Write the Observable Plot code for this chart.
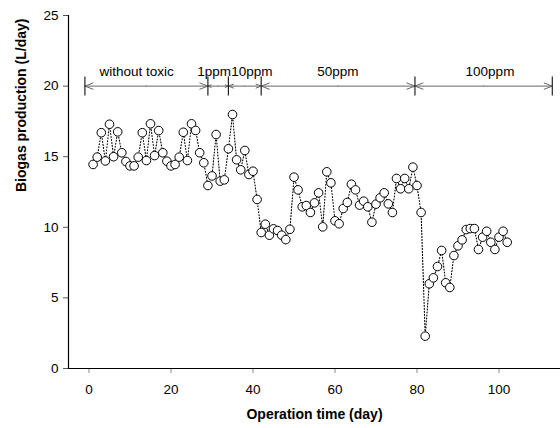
<!DOCTYPE html>
<html><head><meta charset="utf-8">
<script src="https://cdn.jsdelivr.net/npm/d3@7"></script>
<script src="https://cdn.jsdelivr.net/npm/@observablehq/plot@0.6"></script>
<style>
html,body{margin:0;padding:0;background:#fff;}
#chart svg{display:block;}
</style></head><body><div id="chart"></div>
<script>
const days = [1,2,3,4,5,6,7,8,9,10,11,12,13,14,15,16,17,18,19,20,
  21,22,23,24,25,26,27,28,29,30,31,32,33,34,35,36,37,38,39,40,
  41,42,43,44,45,46,47,48,49,50,51,52,53,54,55,56,57,58,59,60,
  61,62,63,64,65,66,67,68,69,70,71,72,73,74,75,76,77,78,79,80,
  81,82,83,84,85,86,87,88,89,90,91,92,93,94,95,96,97,98,99,100,101,102];
const biogas = [14.45,14.97,16.7,14.7,17.3,15.0,16.76,15.28,14.66,14.35,
  14.35,14.97,16.7,14.73,17.33,15.08,16.85,15.28,14.68,14.35,
  14.45,14.97,16.73,14.73,17.33,16.86,15.28,14.57,12.96,13.64,
  16.57,13.27,13.36,15.56,17.99,14.78,14.07,15.44,13.74,13.97,
  11.97,9.63,10.22,9.44,9.89,9.77,9.44,9.13,9.86,13.55,
  12.65,11.45,11.54,11.05,11.73,12.44,10.03,13.93,13.15,10.46,
  10.25,11.33,11.76,13.05,12.65,11.57,11.85,11.45,10.36,11.64,
  12.09,12.44,11.66,11.05,13.46,12.73,13.46,12.73,14.26,12.96,
  11.05,2.29,6.0,6.42,7.22,8.36,6.07,5.74,8.0,8.69,
  9.11,9.84,9.91,9.91,8.43,9.3,9.72,8.94,8.43,9.3,9.72,8.94];

const phaseLabels = ["without toxic","1ppm","10ppm","50ppm","100ppm"];
const phaseStart = [-1, 29, 34, 42, 79.5];
const phaseEnd = [29, 34, 42, 79.5, 113];
const phaseLabelX = [11.6, 30.5, 39.7, 60.7, 97.8];
const phaseLevel = 20;
const phaseLabelLevel = 21.05;

const xTicks = [0,20,40,60,80,100];
const yTicks = [0,5,10,15,20,25];

const data = days.map((d,i) => ({day: d, value: biogas[i]}));
const phases = phaseLabels.map((l,i) => ({label: l, start: phaseStart[i], end: phaseEnd[i], lx: phaseLabelX[i]}));
const halves = phases.flatMap(p => {
  const m = (p.start + p.end) / 2;
  return [{from: m, to: p.start}, {from: m, to: p.end}];
});
const bounds = Array.from(new Set(phases.flatMap(p => [p.start, p.end])));

const font = "'Liberation Sans', Arial, Helvetica, sans-serif";
const chart = Plot.plot({
  width: 560, height: 428,
  marginLeft: 68, marginRight: 0, marginTop: 15, marginBottom: 60,
  x: {domain: [-5, 115]},
  y: {domain: [0, 25]},
  style: {fontFamily: font, fontSize: "13.5px", color: "#000", background: "#fff"},
  marks: [
    Plot.axisX({ticks: xTicks, tickSize: 5, tickPadding: 11, stroke: "#888", fill: "#000", label: null}),
    Plot.axisY({ticks: yTicks, tickSize: 5, tickPadding: 5, stroke: "#555", fill: "#000", label: null}),
    Plot.ruleX([-5], {y1: 0, y2: 25, stroke: "#000", strokeWidth: 1.2}),
    Plot.ruleY([0], {x1: -5, x2: 115, stroke: "#000", strokeWidth: 1.2}),
    Plot.line(data, {x: "day", y: "value", stroke: "#000", strokeWidth: 1.1, strokeDasharray: "1,2"}),
    Plot.dot(data, {x: "day", y: "value", r: 4.3, fill: "#fff", stroke: "#000", strokeWidth: 1}),
    Plot.arrow(halves, {x1: "from", x2: "to", y1: phaseLevel, y2: phaseLevel, stroke: "#666", strokeWidth: 1, headLength: 13, headAngle: 42}),
    Plot.ruleX(bounds, {y1: 19.3, y2: 20.65, stroke: "#222", strokeWidth: 1.2}),
    Plot.text(phases, {x: "lx", y: phaseLabelLevel, text: "label", fill: "#000", fontSize: 13.5}),
    Plot.text(["Operation time (day)"], {frameAnchor: "bottom", dy: 50, fontWeight: "bold", fontSize: 14, fill: "#000"}),
    Plot.text(["Biogas production (L/day)"], {frameAnchor: "left", dx: -47, rotate: -90, fontWeight: "bold", fontSize: 14, fill: "#000"})
  ]
});
document.getElementById("chart").appendChild(chart);
</script>
</body></html>
